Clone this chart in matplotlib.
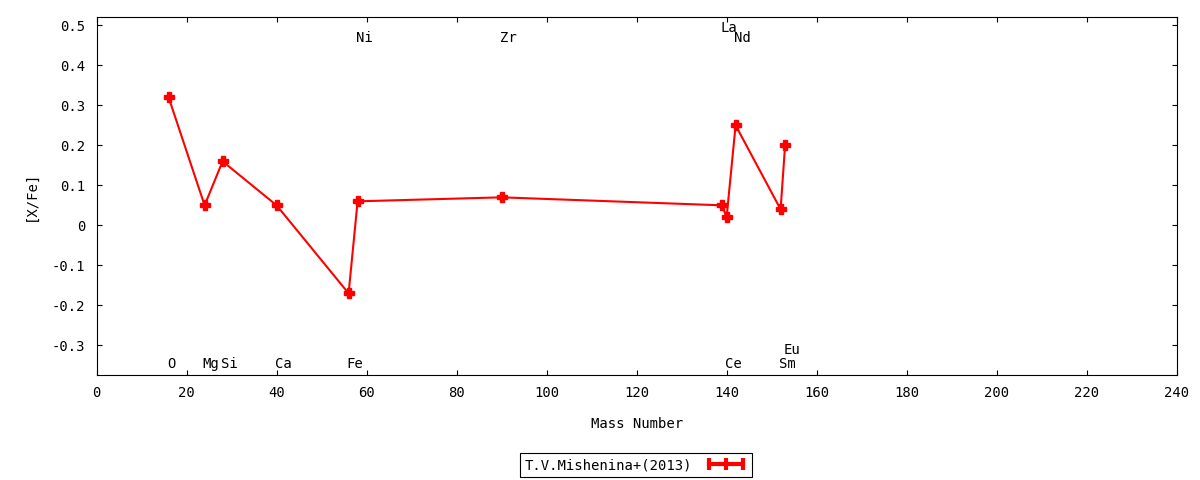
import matplotlib
matplotlib.use("Agg")
import matplotlib.pyplot as plt
from matplotlib.lines import Line2D

# abundances, T.V.Mishenina+(2013)
elements = ["O", "Mg", "Si", "Ca", "Fe", "Ni", "Zr", "La", "Ce", "Nd", "Sm", "Eu"]
mass = [16, 24, 28, 40, 56, 58, 90, 139, 140, 142, 152, 153]
xfe = [0.32, 0.05, 0.16, 0.05, -0.17, 0.06, 0.07, 0.05, 0.02, 0.25, 0.04, 0.20]
# where the element names sit
label_y = [-0.347, -0.347, -0.347, -0.347, -0.347, 0.468, 0.468, 0.493, -0.347, 0.468, -0.347, -0.312]

plt.rcParams['font.family'] = ['DejaVu Sans Mono']
plt.rcParams['font.size'] = 10

fig = plt.figure(figsize=(12, 4.8), dpi=100)
ax = fig.add_axes([0.0805, 0.2188, 0.9, 0.7452])

ax.plot(mass, xfe, color='red', lw=1.5, marker='P', ms=7.5, mec='red', mfc='red')

for el, m, ly in zip(elements, mass, label_y):
    ax.text(m - 0.4, ly, el, ha='left', va='center')

ax.set_xlim(0, 240)
ax.set_ylim(-0.374, 0.52)
ax.set_xticks(range(0, 241, 20))
ax.set_yticks([-0.3, -0.2, -0.1, 0, 0.1, 0.2, 0.3, 0.4, 0.5])
ax.set_yticklabels(["-0.3", "-0.2", "-0.1", "0", "0.1", "0.2", "0.3", "0.4", "0.5"])
ax.tick_params(direction='in', top=True, right=True, length=3.5, width=0.8, pad=8)
for s in ax.spines.values():
    s.set_linewidth(0.8)

ax.set_xlabel("Mass Number", labelpad=12)
ax.set_ylabel("[X/Fe]", labelpad=10)

# legend sample like gnuplot's errorbar style
sample = Line2D([], [], color='red', lw=3, marker='|', ms=9, mew=3)
leg = fig.legend([sample], ["T.V.Mishenina+(2013)"], numpoints=3,
                 loc='center', bbox_to_anchor=(0.53, 0.031), markerfirst=False,
                 fancybox=False, framealpha=1, edgecolor='black',
                 borderpad=0.35, handlelength=3.1, handletextpad=0.9,
                 borderaxespad=0)
leg.get_frame().set_linewidth(0.8)

fig.savefig("out.png", dpi=100)
